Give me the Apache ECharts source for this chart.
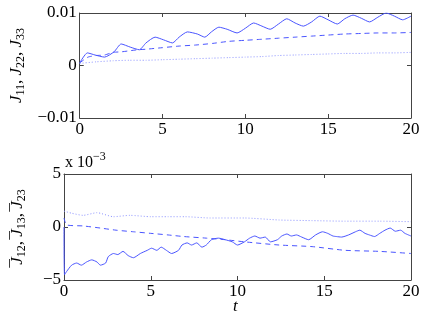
<!DOCTYPE html>
<html><head><meta charset="utf-8">
<script src="https://cdn.jsdelivr.net/npm/echarts@6/dist/echarts.min.js"></script>
<style>html,body{margin:0;padding:0;background:#fff}#c{width:424px;height:317px}</style>
</head><body><div id="c"></div>
<script>
// Top panel: J11 (solid), J22 (dashed), J33 (dotted)
const tJ11 = [0,0.46,0.92,1.5,2.07,2.5,3.05,3.6,4.0,4.55,5.05,5.6,6.0,6.5,7.1,7.55,7.95,8.4,8.9,9.5,10,10.5,11,11.5,12,12.5,13,13.5,14,14.5,15,15.55,16,16.5,17,17.5,18,18.5,19,19.5,20];
const J11  = [0.0005,0.0024,0.002,0.0016,0.0026,0.0041,0.0035,0.003,0.0043,0.0054,0.0049,0.0043,0.0054,0.0064,0.006,0.0054,0.0064,0.0073,0.0069,0.0062,0.0071,0.0081,0.0075,0.0069,0.0079,0.0089,0.0081,0.0075,0.0083,0.0094,0.0087,0.0079,0.0089,0.0096,0.009,0.0083,0.0092,0.01,0.0094,0.0087,0.0094];
const tJ22 = [0,0.5,1,1.5,2,2.5,3,3.5,4,5,6,7,8,9,10,11,12,13,14,15,16,17,18,19,20];
const J22  = [0.0005,0.0016,0.0019,0.002,0.0025,0.0026,0.0028,0.003,0.0031,0.0034,0.0037,0.0039,0.0042,0.0046,0.0048,0.005,0.0052,0.0054,0.0056,0.0058,0.006,0.0061,0.0062,0.0062,0.0063];
const tJ33 = [0,1,2,3,4,5,6,7,8,9,10,11,12,13,14,15,16,17,18,19,20];
const J33  = [0.0004,0.0007,0.0009,0.001,0.001,0.0011,0.0012,0.0013,0.0014,0.0015,0.0016,0.0017,0.0019,0.002,0.0021,0.0022,0.0023,0.0023,0.0024,0.0024,0.0025];
// Bottom panel (units of 1e-3): J12 bar (solid), J13 bar (dashed), J23 bar (dotted)
const tJ12 = [0,0.03,0.15,0.44,0.73,1.0,1.3,1.6,1.9,2.1,2.4,2.55,2.85,3.1,3.4,3.7,4.0,4.4,4.8,5.05,5.35,5.6,5.9,6.2,6.6,6.8,7.1,7.35,7.65,7.95,8.2,8.5,8.9,9.3,9.7,10,10.4,10.7,11,11.3,11.6,11.9,12.3,12.55,12.85,13.1,13.4,13.7,14.1,14.5,14.9,15.2,15.5,15.7,16,16.4,16.8,17.05,17.35,17.6,17.9,18.2,18.5,18.8,19.1,19.4,19.65,20];
const J12  = [0,-4.5,-4.2,-3.6,-3.4,-3.6,-3.3,-3.1,-3.3,-3.6,-3.4,-2.8,-2.5,-2.6,-2.3,-2.7,-2.9,-2.5,-2.2,-2.0,-2.2,-1.9,-2.2,-2.5,-2.2,-1.7,-1.5,-1.7,-1.5,-1.9,-1.7,-1.2,-1.05,-1.2,-1.4,-1.7,-1.4,-1.05,-0.85,-1.05,-0.95,-1.4,-1.2,-0.85,-0.66,-0.85,-0.75,-0.95,-1.2,-0.75,-0.45,-0.6,-0.85,-0.9,-0.95,-0.75,-0.45,-0.3,-0.6,-0.75,-0.9,-0.6,-0.3,-0.1,-0.4,-0.3,-0.6,-0.85];
const tJ13 = [0,0.15,1.1,2.1,3,4,5,6,6.9,8.2,9.3,10.4,12.4,14.3,16.2,18.2,20];
const J13  = [0.85,0.2,0.1,-0.1,-0.3,-0.45,-0.6,-0.75,-0.9,-1.05,-1.2,-1.4,-1.7,-1.85,-2.2,-2.3,-2.5];
const tJ23 = [0,0.44,1.1,1.9,2.85,3.8,5,6,7,8.4,10.4,12.4,14.3,16.2,18.2,20];
const J23  = [1.5,1.3,1.1,1.35,0.97,1.1,0.97,0.97,0.97,0.85,0.85,0.66,0.6,0.55,0.55,0.5];
const xTicks = [0,5,10,15,20];

const pair = (t, v) => t.map((x, i) => [x, v[i]]);
const F = '"Liberation Serif", "Times New Roman", serif';
const axisCol = '#444';
const minus = v => String(v).replace('-', '\u2212');

function xAx(gi) {
  return [{
    type:'value', gridIndex:gi, min:0, max:20, interval:5, position:'bottom',
    axisLine:{show:true, onZero:false, lineStyle:{color:axisCol}},
    axisTick:{show:true, inside:true, length:4, lineStyle:{color:axisCol}},
    axisLabel:{show:true, color:'#000', fontFamily:F, fontSize:17, margin:3},
    splitLine:{show:false}
  },{
    type:'value', gridIndex:gi, min:0, max:20, interval:5, position:'top',
    axisLine:{show:true, onZero:false, lineStyle:{color:axisCol}},
    axisTick:{show:true, inside:true, length:4, lineStyle:{color:axisCol}},
    axisLabel:{show:false}, splitLine:{show:false}
  }];
}
const richName = {
  i:{fontFamily:F, fontSize:17, fontStyle:'italic', color:'#000', lineHeight:20},
  o:{fontFamily:F, fontSize:17, fontStyle:'italic', color:'#000', lineHeight:20, width:0.01},
  n:{fontFamily:F, fontSize:17, color:'#000', lineHeight:20},
  s:{fontFamily:F, fontSize:12, color:'#000', lineHeight:12, verticalAlign:'bottom'}
};
function yAx(gi, min, max, interval, fmt, name) {
  return [{
    type:'value', gridIndex:gi, min, max, interval, position:'left',
    axisLine:{show:true, onZero:false, lineStyle:{color:axisCol}},
    axisTick:{show:true, inside:true, length:4, lineStyle:{color:axisCol}},
    axisLabel:{show:true, color:'#000', fontFamily:F, fontSize:17, margin:3, formatter:fmt},
    splitLine:{show:false},
    name, nameLocation:'middle', nameRotate:90, nameGap:36,
    nameTextStyle:{color:'#000', fontFamily:F, fontSize:17, rich:richName}
  },{
    type:'value', gridIndex:gi, min, max, interval, position:'right',
    axisLine:{show:true, onZero:false, lineStyle:{color:axisCol}},
    axisTick:{show:true, inside:true, length:4, lineStyle:{color:axisCol}},
    axisLabel:{show:false}, splitLine:{show:false}
  }];
}

const col = '#4a55ff';
const colDot = '#8f96ff';
function ser(xi, yi, data, type, color) {
  return {type:'line', xAxisIndex:xi, yAxisIndex:yi, data, showSymbol:false, symbol:'none',
    smooth:0.2, animation:false,
    lineStyle:{color, width:1, type}};
}

const chart = echarts.init(document.getElementById('c'), null, {renderer:'canvas'});
chart.setOption({
  backgroundColor:'#fff',
  animation:false,
  grid:[
    {left:64, right:13, top:13, height:105, containLabel:false},
    {left:64, right:13, top:174, height:106, containLabel:false}
  ],
  xAxis:[...xAx(0), ...xAx(1)],
  yAxis:[
    ...yAx(0, -0.01, 0.01, 0.01, v => v === 0 ? '0' : minus(v.toFixed(2)),
      '{i|J}{s|11}{n|, }{i|J}{s|22}{n|, }{i|J}{s|33}'),
    ...yAx(1, -5, 5, 5, v => minus(v),
      '{o|\u00af}{i|J}{s|12}{n|, }{o|\u00af}{i|J}{s|13}{n|, }{o|\u00af}{i|J}{s|23}')
  ],
  series:[
    ser(0,0,pair(tJ11,J11),'solid',col),
    ser(0,0,pair(tJ22,J22),[5,4],col),
    ser(0,0,pair(tJ33,J33),[1,2],colDot),
    ser(2,2,pair(tJ12,J12),'solid',col),
    ser(2,2,pair(tJ13,J13),[5,4],col),
    ser(2,2,pair(tJ23,J23),[1,2],colDot)
  ],
  graphic:[
    {type:'text', left:65, top:151, style:{
      text:'{n|x 10}{p|\u22123}',
      rich:{
        n:{fontFamily:F, fontSize:16, fill:'#000', lineHeight:20, verticalAlign:'bottom'},
        p:{fontFamily:F, fontSize:12, fill:'#000', lineHeight:20, verticalAlign:'top'}
      }}},
    {type:'text', left:233, top:298, style:{text:'t', fontFamily:F, fontSize:17, fontStyle:'italic', fill:'#000'}}
  ]
});
</script></body></html>
